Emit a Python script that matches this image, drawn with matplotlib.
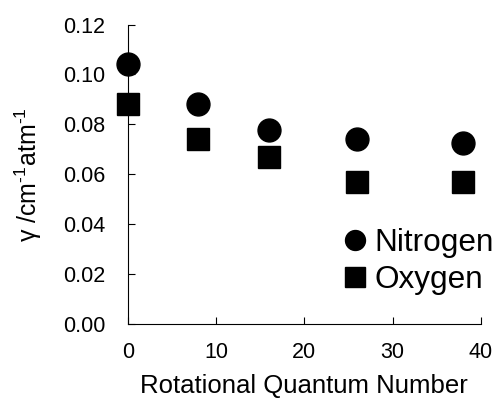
import matplotlib
matplotlib.use('Agg')
import matplotlib.pyplot as plt

plt.rcParams['font.family'] = ['Liberation Sans', 'DejaVu Sans']
plt.rcParams['mathtext.fontset'] = 'custom'
plt.rcParams['mathtext.rm'] = 'Liberation Sans'
plt.rcParams['mathtext.it'] = 'Liberation Sans'

j_values = [0, 8, 16, 26, 38]
nitrogen = [0.1042, 0.0882, 0.0778, 0.0743, 0.0724]
oxygen = [0.0882, 0.0743, 0.0671, 0.0571, 0.0571]

fig = plt.figure(figsize=(4.94, 4.01), dpi=100)
ax = fig.add_axes([0.2585, 0.1913, 0.7148, 0.7476])

ax.plot(j_values, nitrogen, 'o', color='black', markersize=16.5, label='Nitrogen', clip_on=False)
ax.plot(j_values, oxygen, 's', color='black', markersize=16, label='Oxygen', clip_on=False)

ax.set_xlim(0, 40)
ax.set_ylim(0, 0.12)
ax.set_xticks([0, 10, 20, 30, 40])
ax.set_yticks([0, 0.02, 0.04, 0.06, 0.08, 0.10, 0.12])
ax.set_yticklabels(['0.00', '0.02', '0.04', '0.06', '0.08', '0.10', '0.12'])
ax.spines['top'].set_visible(False)
ax.spines['right'].set_visible(False)
ax.tick_params(direction='in', length=5, labelsize=15.5)
ax.tick_params(axis='x', pad=13)
ax.tick_params(axis='y', pad=16)

ax.set_xlabel('Rotational Quantum Number', fontsize=18.5, labelpad=8)
# hyphen instead of the wider math minus, as in the original
ax.set_ylabel('γ /cm$^{\u2010 1}$atm$^{\u2010 1}$', fontsize=18, labelpad=14)

fig.legend(loc='center left', bbox_to_anchor=(0.6866, 0.348), frameon=False,
           fontsize=22.7, handlelength=1, handletextpad=0.13, borderpad=0,
           borderaxespad=0, labelspacing=0.21, markerscale=0.87)

fig.savefig('out.png', dpi=100)
